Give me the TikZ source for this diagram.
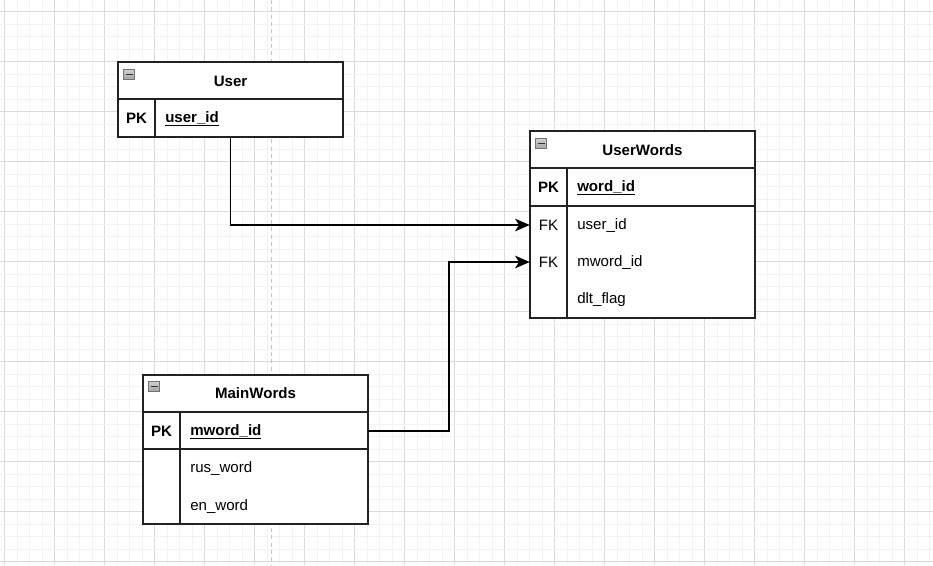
\documentclass[tikz,border=0pt]{standalone}
\usepackage{fontspec}
\setmainfont{Liberation Sans}
\usetikzlibrary{arrows.meta}
\definecolor{gridminor}{HTML}{F3F3F3}
\definecolor{gridmajor}{HTML}{DADADA}
\definecolor{dashgray}{HTML}{C4C4C4}
\definecolor{edge}{HTML}{222222}
\begin{document}
\begin{tikzpicture}[x=0.75pt,y=-0.75pt,
  tbl/.style={draw=edge, line width=1pt, fill=white, inner sep=0pt, minimum width=168.75pt},
  rowbox/.style={inner sep=0pt, minimum width=168.75pt, minimum height=27.75pt},
  title/.style={font=\fontsize{11.3}{13}\selectfont\bfseries, inner sep=0pt},
  keytxt/.style={font=\fontsize{11.3}{13}\selectfont\bfseries, inner sep=0pt},
  fktxt/.style={font=\fontsize{11.3}{13}\selectfont, inner sep=0pt},
  fieldtxt/.style={font=\fontsize{11.3}{13}\selectfont, inner sep=0pt, anchor=west, text depth=2.5pt, text height=8.5pt},
  pkfield/.style={font=\fontsize{11.3}{13}\selectfont\bfseries, inner sep=0pt, anchor=west, text depth=2.5pt, text height=8.5pt},
  sepline/.style={draw=edge, line width=1pt},
  icon/.style={draw=gray!90!black, line width=0.6pt, top color=gray!35, bottom color=gray!70, minimum width=8pt, minimum height=7.5pt, inner sep=0pt},
  conn/.style={draw=black, line width=1pt, -{Stealth[length=11pt,width=9.5pt,inset=3pt]}}
]
\useasboundingbox (0,0) rectangle (933,565);
\fill[white] (0,0) rectangle (933,565);
% grid
\foreach \i in {0,...,74} {
  \pgfmathtruncatemacro{\m}{mod(\i,4)}
  \ifnum\m=0
    \draw[gridmajor, line width=0.75pt] ({4.5+12.5*\i},0) -- ({4.5+12.5*\i},565);
  \else
    \draw[gridminor, line width=0.75pt] ({4.5+12.5*\i},0) -- ({4.5+12.5*\i},565);
  \fi
}
\foreach \i in {0,...,46} {
  \pgfmathtruncatemacro{\m}{mod(\i,4)}
  \ifnum\m=1
    \draw[gridmajor, line width=0.75pt] (0,{-1+12.5*\i}) -- (933,{-1+12.5*\i});
  \else
    \draw[gridminor, line width=0.75pt] (0,{-1+12.5*\i}) -- (933,{-1+12.5*\i});
  \fi
}
\draw[dashgray, line width=0.75pt, dash pattern=on 3pt off 2.5pt] (271.5,0) -- (271.5,565);

% ---- User table
\node[tbl, minimum height=56.25pt] (user) at (230.5,99.5) {};
\draw[sepline] (118,99) -- (343,99);
\draw[sepline] (155,99) -- (155,137);
\node[icon] (usericon) at (129,74) {};
\draw[black!80, line width=1.3pt] (125.5,74.5) -- (132.5,74.5);
\node[title] (usertitle) at (230.5,81) {User};
\node[rowbox] (userpk) at (230.5,118) {};
\node[keytxt] (userpkk) at (136.5,118) {PK};
\node[pkfield] (userpkf) at (165,118) {\underline{user\_id}};

% ---- UserWords table
\node[tbl, minimum height=140.25pt] (uw) at (642.5,224.5) {};
\draw[sepline] (530,168) -- (755,168);
\draw[sepline] (530,206) -- (755,206);
\draw[sepline] (567,168) -- (567,318);
\node[icon] (uwicon) at (541,143) {};
\draw[black!80, line width=1.3pt] (537.5,143.5) -- (544.5,143.5);
\node[title] (uwtitle) at (642.5,150) {UserWords};
\node[rowbox] (uwpk) at (642.5,187) {};
\node[keytxt] (uwpkk) at (548.5,187) {PK};
\node[pkfield] (uwpkf) at (577,187) {\underline{word\_id}};
\node[rowbox] (uwfk1) at (642.5,225) {};
\node[fktxt] (uwfk1k) at (548.5,225) {FK};
\node[fieldtxt] (uwfk1f) at (577,225) {user\_id};
\node[rowbox] (uwfk2) at (642.5,262) {};
\node[fktxt] (uwfk2k) at (548.5,262) {FK};
\node[fieldtxt] (uwfk2f) at (577,262) {mword\_id};
\node[rowbox] (uwr3) at (642.5,299) {};
\node[fieldtxt] (uwr3f) at (577,299) {dlt\_flag};

% ---- MainWords table
\node[tbl, minimum height=111.75pt] (mw) at (255.5,449.5) {};
\draw[sepline] (143,412) -- (368,412);
\draw[sepline] (143,449) -- (368,449);
\draw[sepline] (180,412) -- (180,524);
\node[icon] (mwicon) at (154,386) {};
\draw[black!80, line width=1.3pt] (150.5,386.5) -- (157.5,386.5);
\node[title] (mwtitle) at (255.5,393) {MainWords};
\node[rowbox] (mwpk) at (255.5,431) {};
\node[keytxt] (mwpkk) at (161.5,431) {PK};
\node[pkfield] (mwpkf) at (190,431) {\underline{mword\_id}};
\node[rowbox] (mwr2) at (255.5,468) {};
\node[fieldtxt] (mwr2f) at (190,468) {rus\_word};
\node[rowbox] (mwr3) at (255.5,506) {};
\node[fieldtxt] (mwr3f) at (190,506) {en\_word};

% ---- connectors
\draw[conn] (user.south) |- (uwfk1.west);
\coordinate (bend) at (449,431);
\draw[conn] (mwpk.east) -- (bend) |- (uwfk2.west);
\end{tikzpicture}
\end{document}
